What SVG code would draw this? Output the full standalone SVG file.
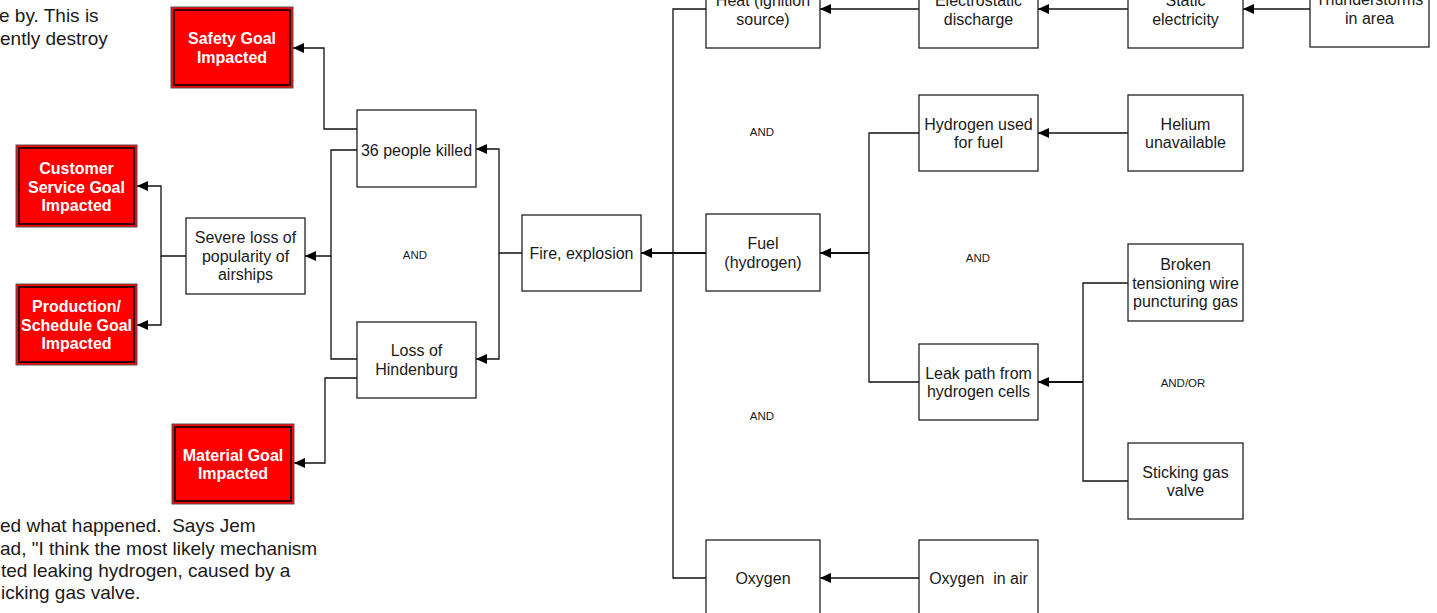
<svg xmlns="http://www.w3.org/2000/svg" width="1437" height="613" viewBox="0 0 1437 613">
<style>
.box{fill:#fff;stroke:#222;stroke-width:1.3}
.goal{fill:#ff0000;stroke:#555;stroke-width:1}
.goalin{fill:none;stroke:#000;stroke-width:1.6}
.t{font-family:"Liberation Sans",Arial,sans-serif;font-size:16px;fill:#1a1a1a;text-anchor:middle}
.gt{font-family:"Liberation Sans",Arial,sans-serif;font-size:16px;font-weight:bold;fill:#fff;text-anchor:middle}
.gate{font-family:"Liberation Sans",Arial,sans-serif;font-size:11.5px;fill:#1a1a1a;text-anchor:middle}
.para{font-family:"Liberation Sans",Arial,sans-serif;font-size:19px;fill:#1a1a1a}
.c{fill:none;stroke:#111;stroke-width:1.3}
.thick{stroke-width:2.2}
.a{marker-end:url(#arr)}
</style>
<defs>
<marker id="arr" markerUnits="userSpaceOnUse" markerWidth="12" markerHeight="10" refX="11" refY="5" orient="auto">
<path d="M0,0 L11,5 L0,10 z" fill="#000"/>
</marker>
</defs>
<rect width="1437" height="613" fill="#fff"/>

<g id="paragraph">
<text class="para" x="-1" y="22">e by. This is</text>
<text class="para" x="0" y="44.5">ently destroy</text>
<text class="para" x="0" y="532" xml:space="preserve">ed what happened.  Says Jem</text>
<text class="para" x="0" y="554.5">ad, "I think the most likely mechanism</text>
<text class="para" x="1" y="577">ted leaking hydrogen, caused by a</text>
<text class="para" x="1" y="599">icking gas valve.</text>
</g>

<g id="connectors">
<path class="c a" d="M357,129 H324 V48 H293"/>
<path class="c a" d="M522,253 H499 V149 H476"/>
<path class="c a" d="M499,253 V359 H476"/>
<path class="c a" d="M357,150 H331 V256 H305"/>
<path class="c" d="M357,359 H331 V256"/>
<path class="c a" d="M186,256 H161 V186 H137"/>
<path class="c a" d="M161,256 V325 H137"/>
<path class="c a" d="M357,378 H325 V463 H294"/>
<path class="c" d="M706,9 H673 V578 H706"/>
<path class="c thick a" d="M706,253 H641"/>
<path class="c a" d="M919,9 H820"/>
<path class="c a" d="M1128,9 H1038"/>
<path class="c a" d="M1310,9 H1243"/>
<path class="c a" d="M1128,133 H1038"/>
<path class="c" d="M919,133 H869 V382 H919"/>
<path class="c thick a" d="M869,253 H820"/>
<path class="c" d="M1128,283 H1083 V481 H1128"/>
<path class="c thick a" d="M1083,382 H1038"/>
<path class="c a" d="M919,578 H820"/>
</g>

<g id="safety-goal">
<rect class="goal" x="171" y="7" width="122" height="81"/>
<rect class="goalin" x="174" y="10" width="116" height="75"/>
<text class="gt" x="232" y="44">Safety Goal</text>
<text class="gt" x="232" y="62.5">Impacted</text>
</g>
<g id="customer-goal">
<rect class="goal" x="16" y="145" width="121" height="82"/>
<rect class="goalin" x="19" y="148" width="115" height="76"/>
<text class="gt" x="76.5" y="174">Customer</text>
<text class="gt" x="76.5" y="192.5">Service Goal</text>
<text class="gt" x="76.5" y="211">Impacted</text>
</g>
<g id="production-goal">
<rect class="goal" x="16" y="284" width="121" height="81"/>
<rect class="goalin" x="19" y="287" width="115" height="75"/>
<text class="gt" x="76.5" y="312">Production/</text>
<text class="gt" x="76.5" y="330.5" textLength="111" lengthAdjust="spacingAndGlyphs">Schedule Goal</text>
<text class="gt" x="76.5" y="349">Impacted</text>
</g>
<g id="material-goal">
<rect class="goal" x="172" y="424" width="122" height="80"/>
<rect class="goalin" x="175" y="427" width="116" height="74"/>
<text class="gt" x="233" y="460.5">Material Goal</text>
<text class="gt" x="233" y="479">Impacted</text>
</g>

<g id="people-killed">
<rect class="box" x="357" y="110" width="119" height="77"/>
<text class="t" x="416.5" y="155.5">36 people killed</text>
</g>
<g id="severe-loss">
<rect class="box" x="186" y="218" width="119" height="76"/>
<text class="t" x="245.5" y="243">Severe loss of</text>
<text class="t" x="245.5" y="261.5">popularity of</text>
<text class="t" x="245.5" y="280">airships</text>
</g>
<g id="loss-hindenburg">
<rect class="box" x="357" y="322" width="119" height="76"/>
<text class="t" x="416.5" y="356">Loss of</text>
<text class="t" x="416.5" y="374.5">Hindenburg</text>
</g>
<g id="fire">
<rect class="box" x="522" y="215" width="119" height="76"/>
<text class="t" x="581.5" y="258.5">Fire, explosion</text>
</g>
<g id="heat">
<rect class="box" x="706" y="-29" width="114" height="77"/>
<text class="t" x="763" y="6">Heat (ignition</text>
<text class="t" x="763" y="24.5">source)</text>
</g>
<g id="fuel">
<rect class="box" x="706" y="214" width="114" height="77"/>
<text class="t" x="763" y="249">Fuel</text>
<text class="t" x="763" y="267.5">(hydrogen)</text>
</g>
<g id="oxygen">
<rect class="box" x="706" y="540" width="114" height="77"/>
<text class="t" x="763" y="584">Oxygen</text>
</g>
<g id="electrostatic">
<rect class="box" x="919" y="-29" width="119" height="77"/>
<text class="t" x="978.5" y="6">Electrostatic</text>
<text class="t" x="978.5" y="24.5">discharge</text>
</g>
<g id="hydrogen-used">
<rect class="box" x="919" y="95" width="119" height="76"/>
<text class="t" x="978.5" y="129.5">Hydrogen used</text>
<text class="t" x="978.5" y="148">for fuel</text>
</g>
<g id="leak-path">
<rect class="box" x="919" y="344" width="119" height="76"/>
<text class="t" x="978.5" y="378.5">Leak path from</text>
<text class="t" x="978.5" y="397">hydrogen cells</text>
</g>
<g id="oxygen-air">
<rect class="box" x="919" y="540" width="119" height="77"/>
<text class="t" x="978.5" y="584" xml:space="preserve">Oxygen  in air</text>
</g>
<g id="static">
<rect class="box" x="1128" y="-29" width="115" height="77"/>
<text class="t" x="1185.5" y="6">Static</text>
<text class="t" x="1185.5" y="24.5">electricity</text>
</g>
<g id="thunderstorms">
<rect class="box" x="1310" y="-30" width="119" height="77"/>
<text class="t" x="1369.5" y="5">Thunderstorms</text>
<text class="t" x="1369.5" y="23.5">in area</text>
</g>
<g id="helium">
<rect class="box" x="1128" y="95" width="115" height="76"/>
<text class="t" x="1185.5" y="129.5">Helium</text>
<text class="t" x="1185.5" y="148">unavailable</text>
</g>
<g id="broken-wire">
<rect class="box" x="1128" y="244" width="115" height="77"/>
<text class="t" x="1185.5" y="270">Broken</text>
<text class="t" x="1185.5" y="288.5">tensioning wire</text>
<text class="t" x="1185.5" y="307">puncturing gas</text>
</g>
<g id="sticking-valve">
<rect class="box" x="1128" y="443" width="115" height="76"/>
<text class="t" x="1185.5" y="477.5">Sticking gas</text>
<text class="t" x="1185.5" y="496">valve</text>
</g>

<g id="gates">
<text class="gate" x="415" y="259">AND</text>
<text class="gate" x="762" y="136">AND</text>
<text class="gate" x="978" y="262">AND</text>
<text class="gate" x="762" y="420">AND</text>
<text class="gate" x="1183" y="387">AND/OR</text>
</g>
</svg>
